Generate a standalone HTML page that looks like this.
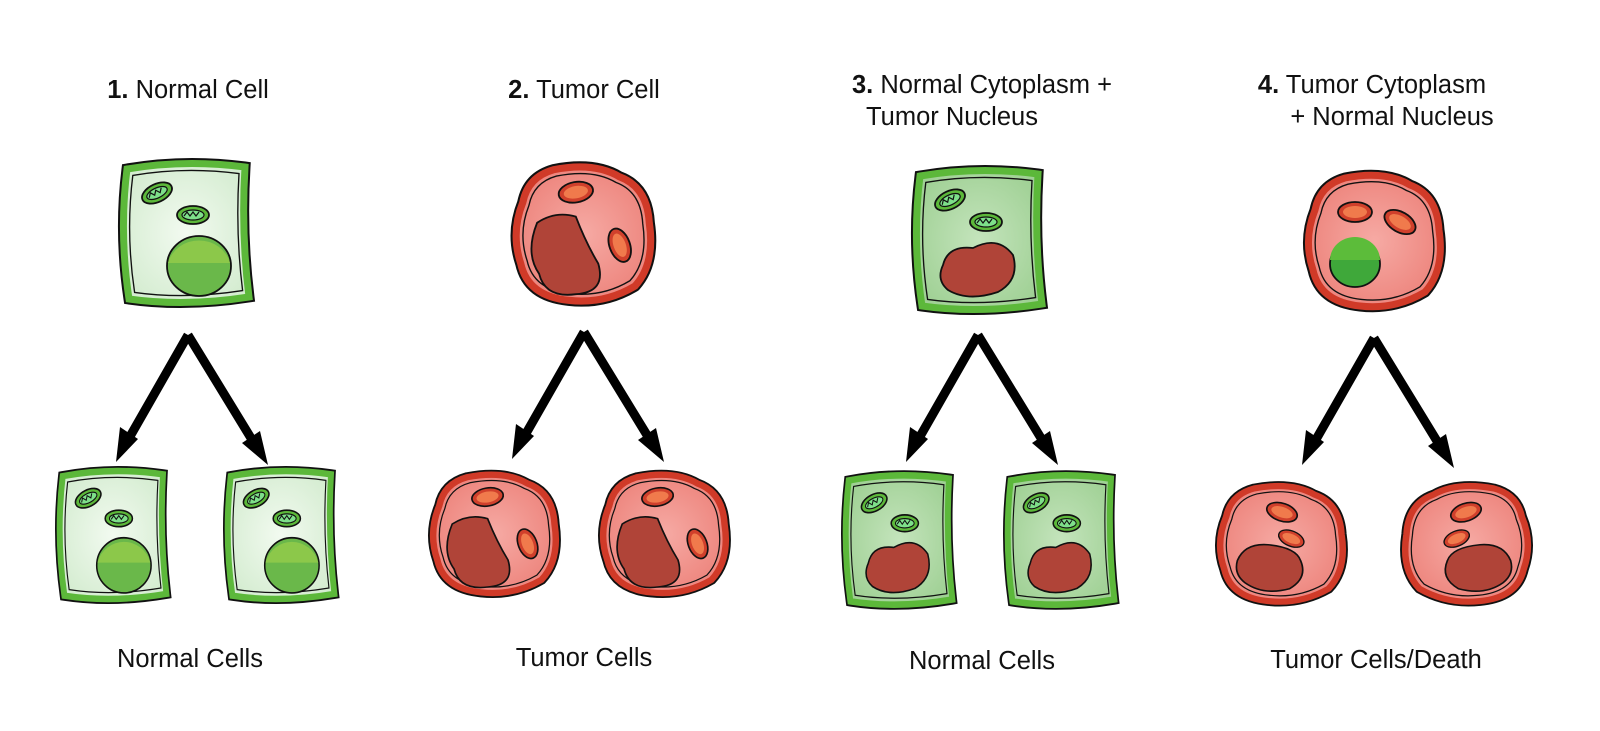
<!DOCTYPE html>
<html><head><style>
body{margin:0;background:#fff;width:1600px;height:726px;overflow:hidden;font-family:"Liberation Sans",sans-serif}
</style></head><body>
<svg width="1600" height="726" viewBox="0 0 1600 726" xmlns="http://www.w3.org/2000/svg">
<defs>
<radialGradient id="gn" cx="0.5" cy="0.5" r="0.6"><stop offset="0" stop-color="#f2faf0"/><stop offset="1" stop-color="#d4ecd0"/></radialGradient>
<radialGradient id="gn3" cx="0.5" cy="0.5" r="0.6"><stop offset="0" stop-color="#c4e4bc"/><stop offset="1" stop-color="#9fd094"/></radialGradient>
<radialGradient id="rt" cx="0.5" cy="0.5" r="0.6"><stop offset="0" stop-color="#f6aaa4"/><stop offset="1" stop-color="#ec8078"/></radialGradient>
<path id="nshape" d="M-58,-64 Q0,-74 60,-66 Q56,0 64,64 Q0,74 -56,66 Q-66,0 -58,-64Z"/>
<path id="tshape" d="M-30,-62 Q10,-70 35,-55 Q62,-45 64,-10 Q70,30 50,52 Q20,70 -15,66 Q-55,62 -62,30 Q-72,0 -60,-30 Q-55,-55 -30,-62Z"/>
<g id="mitoG">
<ellipse rx="16" ry="9" fill="#5cb83a" stroke="#111" stroke-width="1.8"/>
<ellipse rx="11" ry="5" fill="#7ee08a" stroke="#111" stroke-width="1.2"/>
<path d="M-9,1 l3,-4 l3,4 l3,-4 l3,4 l3,-4" fill="none" stroke="#111" stroke-width="1.2"/>
</g>
<g id="mitoR">
<ellipse rx="17" ry="10" fill="#d0402c" stroke="#111" stroke-width="1.8"/>
<ellipse rx="12" ry="6" fill="#f07a4c"/>
</g>
<path id="tnuc" d="M-28,-30 Q-10,-42 10,-36 Q20,-10 32,10 Q40,38 10,40 Q-20,44 -26,20 Q-40,0 -28,-30Z" fill="#b04438" stroke="#111" stroke-width="1.8"/>
<g id="ncell">
<use href="#nshape" fill="url(#gn)" stroke="#111" stroke-width="11"/>
<use href="#nshape" fill="url(#gn)" stroke="#5cb83a" stroke-width="7"/>
<use href="#nshape" fill="none" stroke="#111" stroke-width="1.5" transform="scale(0.9)"/>
<use href="#mitoG" transform="translate(-28,-40) rotate(-25)"/>
<use href="#mitoG" transform="translate(8,-18)"/>
<ellipse cx="14" cy="33" rx="32" ry="30" fill="#6ab84a" stroke="#111" stroke-width="1.8"/>
<path d="M-17,30 A32,30 0 0 1 45,30Z" fill="#8cc84a"/>
</g>
<g id="n3cell">
<use href="#nshape" fill="url(#gn3)" stroke="#111" stroke-width="11"/>
<use href="#nshape" fill="url(#gn3)" stroke="#5cb83a" stroke-width="7"/>
<use href="#nshape" fill="none" stroke="#111" stroke-width="1.5" transform="scale(0.9)"/>
<use href="#mitoG" transform="translate(-28,-40) rotate(-25)"/>
<use href="#mitoG" transform="translate(8,-18)"/>
<path d="M-35,25 Q-30,5 -5,8 Q20,-5 35,15 Q42,40 20,52 Q-10,62 -30,50 Q-42,40 -35,25Z" fill="#b04438" stroke="#111" stroke-width="1.8"/>
</g>
<g id="tcell">
<use href="#tshape" fill="url(#rt)" stroke="#111" stroke-width="11"/>
<use href="#tshape" fill="url(#rt)" stroke="#d03a28" stroke-width="7"/>
<use href="#tshape" fill="none" stroke="#111" stroke-width="1.5" transform="scale(0.9)"/>
<use href="#mitoR" transform="translate(-8,-40) rotate(-10)"/>
<use href="#mitoR" transform="translate(35,12) rotate(70)"/>
<use href="#tnuc" transform="translate(-18,20)"/>
</g>
<g id="t4cell">
<use href="#tshape" fill="url(#rt)" stroke="#111" stroke-width="11"/>
<use href="#tshape" fill="url(#rt)" stroke="#d03a28" stroke-width="7"/>
<use href="#tshape" fill="none" stroke="#111" stroke-width="1.5" transform="scale(0.9)"/>
<use href="#mitoR" transform="translate(-20,-28)"/>
<use href="#mitoR" transform="translate(25,-18) rotate(30)"/>
<ellipse cx="-20" cy="24" rx="25" ry="23" fill="#3fa83a" stroke="#111" stroke-width="1.8"/>
<path d="M-45,20 A25,23 0 0 1 5,20Z" fill="#5cbc3a"/>
</g>
<g id="t4d">
<use href="#tshape" fill="url(#rt)" stroke="#111" stroke-width="11"/>
<use href="#tshape" fill="url(#rt)" stroke="#d03a28" stroke-width="7"/>
<use href="#tshape" fill="none" stroke="#111" stroke-width="1.5" transform="scale(0.9)"/>
<use href="#mitoR" transform="translate(0,-35) rotate(20)"/>
<use href="#mitoR" transform="translate(10,-5) rotate(25) scale(0.85)"/>
<path d="M-48,20 Q-40,0 -15,2 Q15,5 20,20 Q28,40 8,52 Q-20,60 -40,45 Q-52,35 -48,20Z" fill="#b04438" stroke="#111" stroke-width="1.8"/>
</g>
<g id="arr">
<path d="M0,0 L-60,105 M0,0 L66,108" fill="none" stroke="#000" stroke-width="9"/>
<path d="M-72,127 L-68,92 L-50,104Z M80,130 L54,108 L72,96Z" fill="#000"/>
</g>
</defs>

<g font-size="25.5" fill="#111" text-anchor="middle">
<text x="188" y="98"><tspan font-weight="bold">1.</tspan> Normal Cell</text>
<text x="584" y="98"><tspan font-weight="bold">2.</tspan> Tumor Cell</text>
<text x="982" y="93"><tspan font-weight="bold">3.</tspan> Normal Cytoplasm +</text>
<text x="952" y="125">Tumor Nucleus</text>
<text x="1372" y="93"><tspan font-weight="bold">4.</tspan> Tumor Cytoplasm</text>
<text x="1392" y="125">+ Normal Nucleus</text>
<text x="190" y="667">Normal Cells</text>
<text x="584" y="666">Tumor Cells</text>
<text x="982" y="669">Normal Cells</text>
<text x="1376" y="668">Tumor Cells/Death</text>
</g>

<use href="#ncell" transform="translate(185,233)"/>
<use href="#tcell" transform="translate(584,233) scale(1.02)"/>
<use href="#n3cell" transform="translate(978,240)"/>
<use href="#t4cell" transform="translate(1375,240)"/>

<use href="#arr" transform="translate(188,335)"/>
<use href="#arr" transform="translate(584,332)"/>
<use href="#arr" transform="translate(978,335)"/>
<use href="#arr" transform="translate(1374,338)"/>

<use href="#ncell" transform="translate(112,535) scale(0.85,0.92)"/>
<use href="#ncell" transform="translate(280,535) scale(0.85,0.92)"/>
<use href="#tcell" transform="translate(495,533) scale(0.93,0.9)"/>
<use href="#tcell" transform="translate(665,533) scale(0.93,0.9)"/>
<use href="#n3cell" transform="translate(898,540) scale(0.85,0.93)"/>
<use href="#n3cell" transform="translate(1060,540) scale(0.85,0.93)"/>
<use href="#t4d" transform="translate(1282,543) scale(0.93,0.88)"/>
<use href="#t4d" transform="translate(1466,543) scale(-0.93,0.88)"/>
</svg>
</body></html>
